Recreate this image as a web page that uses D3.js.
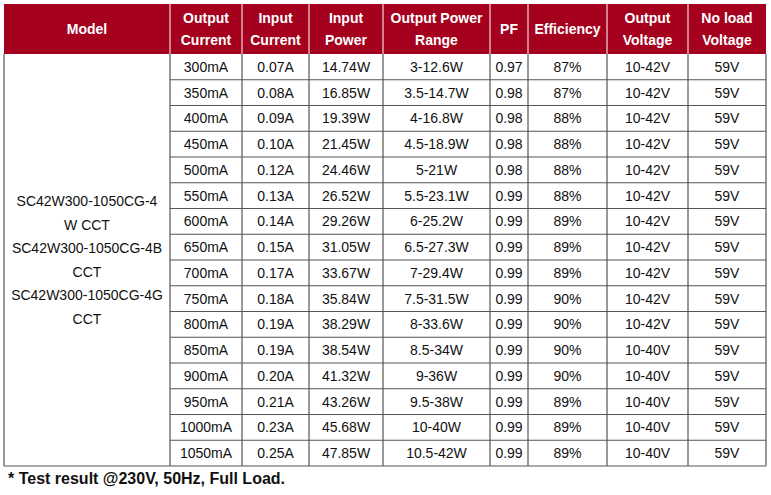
<!DOCTYPE html>
<html><head><meta charset="utf-8">
<script src="https://cdn.jsdelivr.net/npm/d3@7"></script>
<style>body{margin:0;background:#fff}text{font-family:"Liberation Sans",Arial,sans-serif}</style>
</head><body>
<script>
var headers = [["Model"], ["Output", "Current"], ["Input", "Current"], ["Input", "Power"], ["Output Power", "Range"], ["PF"], ["Efficiency"], ["Output", "Voltage"], ["No load", "Voltage"]];
var colEdges = [4, 170, 242, 309, 383, 490, 528, 607, 688, 766];
var modelLines = ["SC42W300-1050CG-4", "W CCT", "SC42W300-1050CG-4B", "CCT", "SC42W300-1050CG-4G", "CCT"];
var outCurrent = ["300mA", "350mA", "400mA", "450mA", "500mA", "550mA", "600mA", "650mA", "700mA", "750mA", "800mA", "850mA", "900mA", "950mA", "1000mA", "1050mA"];
var inCurrent = ["0.07A", "0.08A", "0.09A", "0.10A", "0.12A", "0.13A", "0.14A", "0.15A", "0.17A", "0.18A", "0.19A", "0.19A", "0.20A", "0.21A", "0.23A", "0.25A"];
var inPower = ["14.74W", "16.85W", "19.39W", "21.45W", "24.46W", "26.52W", "29.26W", "31.05W", "33.67W", "35.84W", "38.29W", "38.54W", "41.32W", "43.26W", "45.68W", "47.85W"];
var powerRange = ["3-12.6W", "3.5-14.7W", "4-16.8W", "4.5-18.9W", "5-21W", "5.5-23.1W", "6-25.2W", "6.5-27.3W", "7-29.4W", "7.5-31.5W", "8-33.6W", "8.5-34W", "9-36W", "9.5-38W", "10-40W", "10.5-42W"];
var pf = ["0.97", "0.98", "0.98", "0.98", "0.98", "0.99", "0.99", "0.99", "0.99", "0.99", "0.99", "0.99", "0.99", "0.99", "0.99", "0.99"];
var efficiency = ["87%", "87%", "88%", "88%", "88%", "88%", "89%", "89%", "89%", "90%", "90%", "90%", "90%", "89%", "89%", "89%"];
var outVoltage = ["10-42V", "10-42V", "10-42V", "10-42V", "10-42V", "10-42V", "10-42V", "10-42V", "10-42V", "10-42V", "10-42V", "10-40V", "10-40V", "10-40V", "10-40V", "10-40V"];
var noLoad = ["59V", "59V", "59V", "59V", "59V", "59V", "59V", "59V", "59V", "59V", "59V", "59V", "59V", "59V", "59V", "59V"];
var note = "* Test result @230V, 50Hz, Full Load.";

var width = 771, height = 495, tableTop = 4, headH = 50, tableBottom = 466;
var columns = [outCurrent, inCurrent, inPower, powerRange, pf, efficiency, outVoltage, noLoad];

var svg = d3.select('body').append('svg').attr('width', width).attr('height', height);
var y = d3.scaleBand().domain(d3.range(outCurrent.length)).range([tableTop + headH, tableBottom]);
function cx(i) { return (colEdges[i] + colEdges[i + 1]) / 2; }

// header
svg.append('rect').attr('x', colEdges[0]).attr('y', tableTop).attr('width', colEdges[9] - colEdges[0]).attr('height', headH).attr('fill', '#a5001e');
headers.forEach(function (h, i) {
    var t = svg.append('text').attr('text-anchor', 'middle').attr('fill', '#fff')
        .attr('font-weight', 'bold').attr('font-size', 14);
    var y0 = tableTop + headH / 2 - (h.length - 1) * 11 + 5;
    h.forEach(function (s, k) { t.append('tspan').attr('x', cx(i)).attr('y', y0 + k * 22).text(s); });
});
for (var i = 1; i < 9; i++) {
    svg.append('line').attr('x1', colEdges[i]).attr('x2', colEdges[i]).attr('y1', tableTop).attr('y2', tableTop + headH).attr('stroke', '#fff').attr('stroke-width', 1);
}

// body cells
columns.forEach(function (col, c) {
    svg.selectAll(null).data(col).enter().append('text')
        .attr('x', cx(c + 1)).attr('y', function (d, r) { return y(r) + y.bandwidth() / 2 + 5; })
        .attr('text-anchor', 'middle').attr('font-size', 14).attr('fill', '#111').text(function (d) { return d; });
});
var mid = (tableTop + headH + tableBottom) / 2;
svg.selectAll('.model').data(modelLines).enter().append('text')
    .attr('x', cx(0)).attr('y', function (d, k) { return mid - 2.5 * 23.5 + k * 23.5 + 5; })
    .attr('text-anchor', 'middle').attr('font-size', 14).attr('fill', '#111').text(function (d) { return d; });

// grid
var g = svg.append('g').attr('stroke', '#555').attr('stroke-width', 1.2).attr('fill', 'none');
d3.range(1, outCurrent.length).forEach(function (r) {
    g.append('line').attr('x1', colEdges[1]).attr('x2', colEdges[9]).attr('y1', y(r)).attr('y2', y(r));
});
g.append('line').attr('x1', colEdges[0]).attr('x2', colEdges[9]).attr('y1', tableBottom).attr('y2', tableBottom);
colEdges.forEach(function (x) {
    g.append('line').attr('x1', x).attr('x2', x).attr('y1', tableTop + headH).attr('y2', tableBottom);
});

svg.append('text').attr('x', 8).attr('y', 484).attr('font-size', 16).attr('font-weight', 'bold').attr('fill', '#111').text(note);
</script>
</body></html>
